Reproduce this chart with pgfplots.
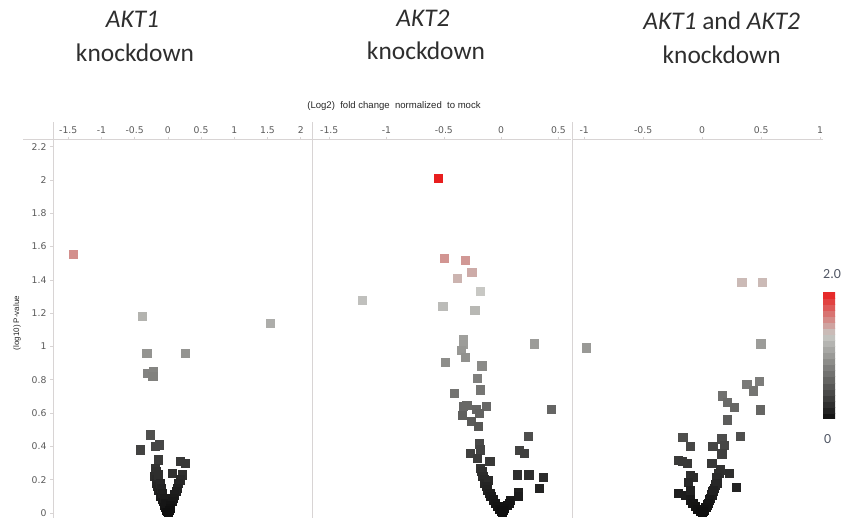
\documentclass[border=0pt]{standalone}
\usepackage{pgfplots}
\pgfplotsset{compat=1.18}
\usepackage{fontspec}
\setmainfont{Carlito}
\newfontfamily\dejavu{DejaVu Sans}
\newfontfamily\libsans{Liberation Sans}
\definecolor{axisgray}{RGB}{216,212,212}
\definecolor{ticktext}{RGB}{90,90,90}
\definecolor{cbtext}{RGB}{80,86,100}
\pgfplotsset{
  colormap={akt}{rgb255(0cm)=(14,14,14) rgb255(13.3cm)=(200,200,196) rgb255(20cm)=(232,30,30)},
  panel/.style={
    scale only axis, height=378bp, ymin=-0.03, ymax=2.24,
    axis x line=top, axis y line=left,
    axis line style={draw=axisgray, line width=1pt, -},
    tick style={draw=axisgray, line width=0.6pt},
    major tick length=3bp, tick align=outside,
    xticklabel style={font=\dejavu\fontsize{9.3}{10}\selectfont, text=ticktext},
    yticklabel style={font=\dejavu\fontsize{9.3}{10}\selectfont, text=ticktext},
    colormap name=akt, point meta min=0, point meta max=2, clip=false,
  },
  vol/.style={scatter, only marks, mark=square*, mark size=4.1bp, point meta=y,
    scatter/use mapped color={draw=mapped color, fill=mapped color}},
}
\begin{document}
\begin{tikzpicture}[x=1bp,y=1bp]
\useasboundingbox (0,0) rectangle (841,521);
% extensions of the frame lines
\draw[axisgray, line width=1pt] (23,381) -- (53,381);
\draw[axisgray, line width=1pt] (53,381) -- (53,399);
\draw[axisgray, line width=1pt] (312,381) -- (312,399);
\draw[axisgray, line width=1pt] (572,381) -- (572,399);

% ---------- panel 1: AKT1 ----------
\begin{axis}[panel, at={(53bp,3bp)}, anchor=south west, width=259bp,
  xmin=-1.73, xmax=2.17,
  xtick={-1.5,-1,-0.5,0,0.5,1,1.5,2}, xticklabels={-1.5,-1,-0.5,0,0.5,1,1.5,2},
  ytick={0,0.2,0.4,0.6,0.8,1,1.2,1.4,1.6,1.8,2,2.2},
  yticklabels={0,0.2,0.4,0.6,0.8,1,1.2,1.4,1.6,1.8,2,2.2}]
\addplot[vol] coordinates {
(-1.42,1.555) (-0.39,1.18) (1.54,1.14) (-0.32,0.96) (0.26,0.96)
(-0.31,0.84) (-0.22,0.85) (-0.23,0.82) (-0.27,0.47) (-0.42,0.38)
(-0.19,0.40) (-0.13,0.41) (-0.15,0.32) (0.19,0.31) (0.26,0.30)
(0.07,0.24) (0.22,0.23)
(-0.19,0.27) (-0.18,0.25) (-0.20,0.22) (-0.17,0.20) (-0.18,0.18) (-0.16,0.16)
(-0.14,0.14) (-0.12,0.12) (-0.11,0.10) (-0.09,0.085) (-0.07,0.07) (-0.06,0.05)
(-0.04,0.035) (-0.03,0.02) (-0.01,0.01) (0,0.003) (-0.14,0.23) (-0.12,0.18)
(-0.10,0.15) (-0.08,0.12) (-0.06,0.09) (-0.04,0.06)
(0.18,0.20) (0.16,0.18) (0.14,0.15) (0.12,0.13) (0.10,0.11) (0.08,0.09)
(0.06,0.07) (0.04,0.045) (0.03,0.03) (0.02,0.015) (0.01,0.005)
};
\end{axis}

% ---------- panel 2: AKT2 ----------
\begin{axis}[panel, at={(312bp,3bp)}, anchor=south west, width=259bp,
  xmin=-1.65, xmax=0.61,
  xtick={-1.5,-1,-0.5,0,0.5}, xticklabels={-1.5,-1,-0.5,0,0.5},
  ytick=\empty]
\addplot[vol] coordinates {
(-0.547,2.01) (-0.495,1.53) (-0.314,1.52) (-0.256,1.445) (-0.38,1.41)
(-0.18,1.33) (-1.21,1.276) (-0.51,1.24) (-0.23,1.216)
(-0.33,1.043) (-0.33,1.013) (-0.35,0.977) (-0.31,0.937) (0.29,1.017)
(-0.49,0.907) (-0.17,0.884) (-0.21,0.81) (-0.18,0.74) (-0.41,0.72)
(-0.13,0.64) (-0.33,0.64) (-0.30,0.645) (-0.34,0.585) (-0.22,0.625)
(-0.19,0.60) (-0.26,0.55) (-0.20,0.52) (0.44,0.625) (0.236,0.46)
(0.16,0.376) (0.20,0.36) (-0.19,0.416) (-0.18,0.38) (-0.27,0.36)
(-0.21,0.33) (-0.10,0.31) (0.14,0.23) (0.24,0.23) (0.37,0.217)
(0.33,0.147) (0.15,0.127) (0.15,0.10)
(-0.18,0.27) (-0.17,0.25) (-0.16,0.22) (-0.15,0.20) (-0.15,0.177) (-0.11,0.197)
(-0.13,0.16) (-0.12,0.14) (-0.10,0.12) (-0.09,0.10) (-0.07,0.08) (-0.05,0.06)
(-0.03,0.04) (-0.02,0.025) (0,0.01) (0.01,0.005)
(0.08,0.078) (0.07,0.06) (0.05,0.045) (0.03,0.03) (0.02,0.015)
};
\end{axis}

% ---------- panel 3: AKT1 and AKT2 ----------
\begin{axis}[panel, at={(572bp,3bp)}, anchor=south west, width=251bp,
  xmin=-1.103, xmax=1.024,
  xtick={-1,-0.5,0,0.5,1}, xticklabels={-1,-0.5,0,0.5,1},
  ytick=\empty,
  colorbar sampled,
  colorbar style={at={(parent axis.north east)}, anchor=north west,
    yshift=-152bp, xshift=-8.5bp, width=12bp, height=127bp, samples=22,
    ytick=\empty, xtick=\empty, axis line style={draw=none}}]
\addplot[vol] coordinates {
(0.335,1.385) (0.51,1.385) (-0.985,0.993) (0.496,1.017)
(0.377,0.774) (0.48,0.79) (0.43,0.734) (0.17,0.704) (0.21,0.664)
(0.27,0.635) (0.49,0.62) (0.21,0.56) (0.32,0.46) (-0.165,0.456)
(-0.10,0.40) (0.165,0.446) (0.185,0.406) (0.09,0.40) (0.165,0.356)
(-0.20,0.316) (-0.13,0.297) (0.08,0.297) (0.23,0.237) (0.29,0.153)
(-0.10,0.227) (-0.075,0.213) (-0.12,0.187) (-0.20,0.118) (-0.146,0.107)
(-0.10,0.137) (-0.17,0.31)
(-0.10,0.08) (-0.08,0.06) (-0.06,0.04) (-0.04,0.025) (-0.02,0.01) (0,0.003)
(0.15,0.26) (0.14,0.24) (0.13,0.21) (0.12,0.19) (0.11,0.17) (0.10,0.15)
(0.09,0.13) (0.08,0.11) (0.07,0.09) (0.06,0.08) (0.05,0.06) (0.04,0.05)
(0.03,0.035) (0.02,0.02) (0.01,0.01) (0.12,0.217) (0.13,0.18) (0.095,0.137)
};
\end{axis}

% ---------- texts ----------
\node[rotate=90, font=\libsans\fontsize{8}{9}\selectfont, text=black!85] at (17,198) {(log10) P-value};
\node[font=\libsans\fontsize{9.6}{10}\selectfont, text=black!85] at (394,415) {(Log2) \ fold change \ normalized \ to mock};
\begin{scope}[every node/.style={anchor=base, font=\fontsize{25.5}{27}\selectfont, text=black!82, inner sep=0pt}]
\node at (132.5,493) {\textit{AKT1}};
\node at (135,459) {knockdown};
\node at (423,494.3) {\textit{AKT2}};
\node at (426,461.7) {knockdown};
\node at (721.7,491.7) {\textit{AKT1} and \textit{AKT2}};
\node at (721.7,457.7) {knockdown};
\end{scope}
\node[anchor=base west, font=\fontsize{14}{15}\selectfont, text=cbtext, inner sep=0pt] at (823,242) {2.0};
\node[anchor=base west, font=\fontsize{14}{15}\selectfont, text=cbtext, inner sep=0pt] at (824,77) {0};
\end{tikzpicture}
\end{document}
